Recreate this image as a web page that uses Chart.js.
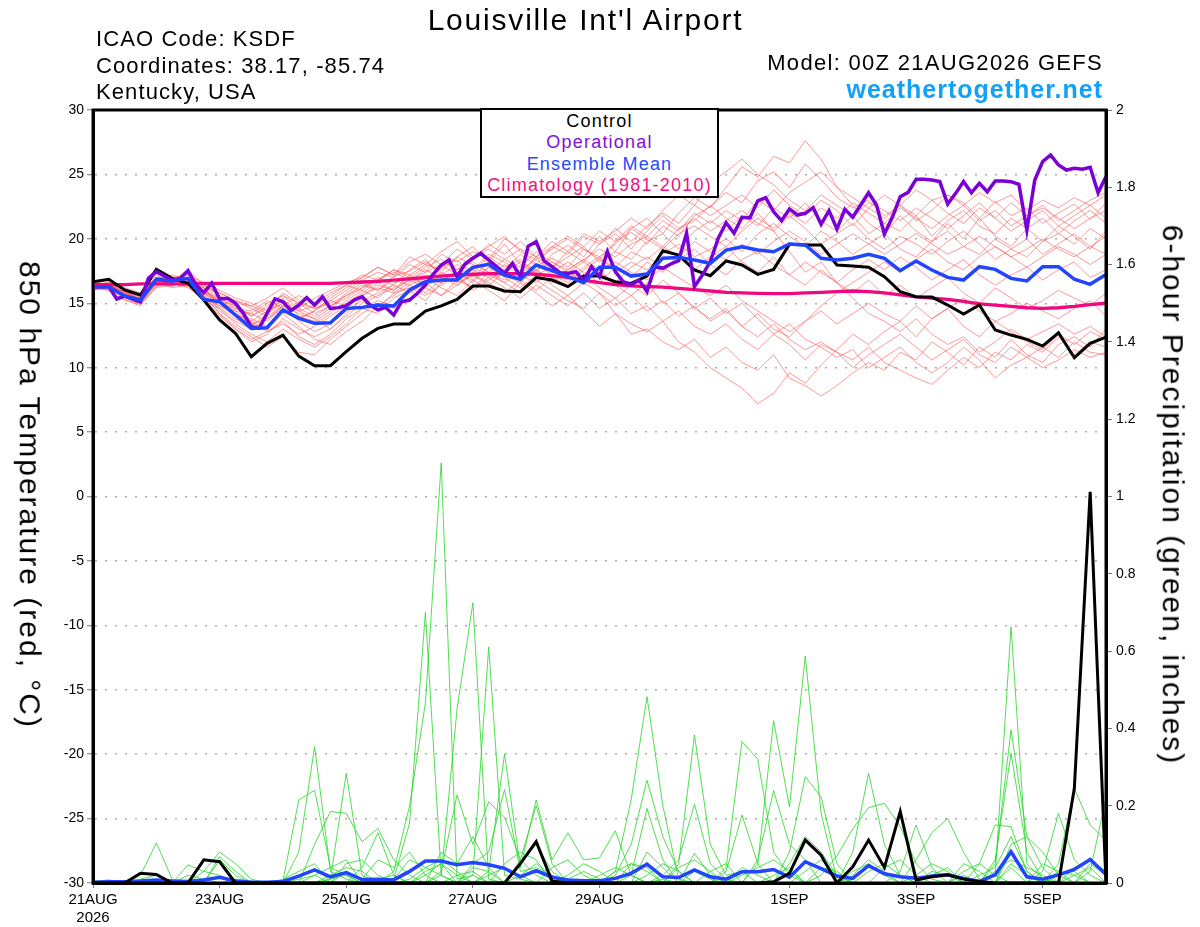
<!DOCTYPE html>
<html>
<head>
<meta charset="utf-8">
<title>Louisville Int'l Airport - GEFS 850 hPa temperature and 6-hour precipitation</title>
<script src="https://cdn.jsdelivr.net/npm/chart.js@4.4.1/dist/chart.umd.min.js"></script>
<style>
  body { margin: 0; background: #fff; }
  #wrap { position: relative; width: 1200px; height: 927px; overflow: hidden;
          font-family: "Liberation Sans", Arial, Helvetica, sans-serif; color: #000; }
  #chart { position: absolute; left: 0; top: 0; }
  .txt { position: absolute; line-height: 1; white-space: nowrap; }
  #title { left: 0; width: 1171px; top: 4.6px; text-align: center; font-size: 30px; letter-spacing: 1.8px; }
  .info { left: 96px; font-size: 22px; letter-spacing: 1.1px; }
  .model { right: 97px; font-size: 22px; letter-spacing: 1.3px; text-align: right; }
  #site { right: 97px; top: 76.8px; font-size: 25px; font-weight: bold; letter-spacing: 1px; color: #12a0f8; }
  .axtitle { position: absolute; font-size: 30px; letter-spacing: 2px; white-space: nowrap; line-height: 1.117;
             transform: translate(-50%, -50%) rotate(90deg); }
  #legendBox { position: absolute; left: 480px; top: 108px; width: 239px; height: 90px; box-sizing: border-box;
               border: 2px solid #000; background: #fff; text-align: center; font-size: 18px;
               letter-spacing: 1.2px; line-height: 21.3px; padding-top: 1px; }
</style>
</head>
<body>
<div id="wrap">
  <canvas id="chart" width="1200" height="927"></canvas>
  <div class="txt" id="title">Louisville Int'l Airport</div>
  <div class="txt info" style="top:28.4px">ICAO Code: KSDF</div>
  <div class="txt info" style="top:55.4px">Coordinates: 38.17, -85.74</div>
  <div class="txt info" style="top:81.4px">Kentucky, USA</div>
  <div class="txt model" style="top:52.4px">Model: 00Z 21AUG2026 GEFS</div>
  <div class="txt" id="site">weathertogether.net</div>
  <div class="axtitle" style="left:30px; top:495px">850 hPa Temperature (red, °C)</div>
  <div class="axtitle" style="left:1173px; top:495px">6-hour Precipitation (green, inches)</div>
  <div id="legendBox">
    <div style="color:#000">Control</div>
    <div style="color:#8010d8">Operational</div>
    <div style="color:#2848ff">Ensemble Mean</div>
    <div style="color:#f01080">Climatology (1981-2010)</div>
  </div>
</div>
<script>
// x is the 6-hour forecast step from 00Z 21AUG2026 (0..64)
const tickSteps = [0, 8, 16, 24, 32, 44, 52, 60];
const tickLabels = ['21AUG', '23AUG', '25AUG', '27AUG', '29AUG', '1SEP', '3SEP', '5SEP'];
const firstTickYear = '2026';

// 850 hPa temperature, deg C, every 6 h
const controlTemp = [
  16.67, 16.86, 16.03, 15.64, 17.63, 16.93, 16.55, 15.25, 13.70, 12.67,
  10.85, 11.89, 12.53, 10.90, 10.15, 10.15, 11.24, 12.28, 13.05, 13.39,
  13.39, 14.40, 14.79, 15.30, 16.34, 16.34, 15.95, 15.90, 16.99, 16.80,
  16.29, 17.11, 17.11, 16.67, 16.54, 17.11, 19.08, 18.74, 17.58, 17.14,
  18.28, 17.97, 17.24, 17.63, 19.57, 19.53, 19.53, 17.97, 17.90, 17.79,
  17.06, 15.90, 15.51, 15.48, 14.86, 14.16, 14.86, 12.92, 12.53, 12.20,
  11.68, 12.71, 10.77, 11.89, 12.36
];
const meanTemp = [
  16.29, 16.29, 15.56, 15.25, 16.85, 16.72, 16.93, 15.30, 15.12, 14.09,
  13.05, 13.10, 14.48, 13.83, 13.44, 13.49, 14.60, 14.68, 14.86, 14.79,
  16.03, 16.67, 16.80, 16.80, 17.79, 18.02, 17.19, 16.86, 17.97, 17.53,
  17.06, 16.60, 17.79, 17.79, 17.11, 17.27, 18.49, 18.56, 18.36, 18.10,
  19.13, 19.39, 19.13, 19.00, 19.60, 19.52, 18.49, 18.36, 18.49, 18.80,
  18.49, 17.53, 18.28, 17.58, 17.01, 16.80, 17.84, 17.63, 16.93, 16.73,
  17.84, 17.84, 16.86, 16.47, 17.24
];
const climTemp = [
  16.45, 16.45, 16.45, 16.5, 16.5, 16.5, 16.5, 16.55, 16.55, 16.55,
  16.55, 16.55, 16.55, 16.55, 16.55, 16.55, 16.6, 16.65, 16.7, 16.8,
  16.9, 17.0, 17.1, 17.2, 17.25, 17.3, 17.3, 17.3, 17.25, 17.15,
  17.0, 16.8, 16.6, 16.45, 16.35, 16.3, 16.25, 16.15, 16.05, 15.95,
  15.85, 15.8, 15.77, 15.75, 15.75, 15.8, 15.85, 15.9, 15.95, 15.9,
  15.8, 15.65, 15.5, 15.4, 15.3, 15.15, 14.95, 14.85, 14.75, 14.65,
  14.6, 14.65, 14.75, 14.9, 15.0
];
// operational run, every 3 h (129 values)
const operationalTemp = [
  16.29, 16.29, 16.29, 15.33, 15.56, 15.33, 15.12, 16.93, 17.45, 17.11,
  16.80, 16.93, 17.53, 16.42, 15.82, 16.55, 15.33, 15.38, 14.99, 14.22,
  13.18, 13.05, 14.22, 15.33, 15.12, 14.42, 14.86, 15.43, 14.86, 15.51,
  14.60, 14.66, 14.79, 15.25, 15.51, 14.86, 14.48, 14.68, 14.09, 15.12,
  15.25, 15.77, 16.42, 17.27, 17.97, 18.36, 17.06, 18.05, 18.49, 18.88,
  18.36, 17.84, 17.32, 18.10, 17.06, 19.44, 19.78, 18.28, 17.84, 17.37,
  17.32, 17.45, 16.75, 17.84, 17.06, 19.00, 17.45, 16.67, 16.42, 16.80,
  15.90, 17.84, 17.71, 18.05, 18.31, 20.43, 16.29, 17.19, 18.23, 20.04,
  21.25, 20.43, 21.67, 21.62, 22.95, 23.19, 22.11, 21.41, 22.32, 21.85,
  21.98, 22.42, 21.13, 22.19, 20.76, 22.29, 21.67, 22.63, 23.58, 22.63,
  20.37, 21.67, 23.27, 23.61, 24.62, 24.62, 24.57, 24.44, 22.70, 23.53,
  24.44, 23.58, 24.31, 23.66, 24.49, 24.49, 24.44, 24.23, 20.69, 24.57,
  25.99, 26.51, 25.73, 25.34, 25.47, 25.40, 25.55, 23.58, 24.83
];
// ensemble members, every 6 h
const memberTemps = [
  [16.3,16.5,15.8,15.5,17.0,16.8,16.9,16.0,15.2,14.8, 14.0,14.6,15.8,15.0,14.2,14.8,15.6,16.4,16.0,17.1,
   17.5,18.2,17.4,18.6,19.4,18.0,17.6,18.8,17.9,18.5, 17.8,19.2,18.4,19.8,20.5,19.6,21.0,20.2,21.8,22.5,
   23.6,22.8,24.5,25.2,24.0,25.8,24.6,23.2,22.4,23.0, 21.8,22.6,21.4,22.2,23.4,22.8,21.6,22.9,21.8,22.4,
   21.2,22.0,22.7,21.5,22.8],
  [16.1,16.6,16.0,15.2,16.9,17.2,16.8,15.6,14.6,13.8, 13.2,14.2,15.4,14.0,13.6,14.4,15.0,15.8,16.6,16.0,
   17.2,16.4,17.8,18.4,17.0,18.2,19.6,18.0,17.4,18.8, 19.5,18.6,20.2,19.0,20.8,21.6,20.4,22.0,23.2,22.4,
   24.0,25.6,24.8,26.4,25.9,27.6,26.2,24.0,22.6,21.2, 20.4,21.8,20.6,19.8,21.2,20.0,21.6,20.2,19.4,20.8,
   19.8,21.0,20.2,19.2,20.6],
  [16.4,16.2,15.6,14.9,16.6,16.4,16.7,15.4,14.0,13.0, 12.2,12.8,13.6,12.4,11.8,12.6,13.8,14.6,14.2,15.4,
   16.0,15.2,16.6,17.0,16.2,17.4,16.6,15.8,16.8,16.0, 15.2,14.6,15.8,14.2,13.4,12.8,13.6,12.0,11.2,10.0,
   9.2,8.4,7.2,8.0,9.6,8.8,10.2,11.4,12.6,11.8, 12.8,13.6,12.4,13.8,14.6,13.2,12.4,13.6,12.8,12.0,
   11.4,12.6,11.8,12.8,12.2],
  [16.2,16.4,15.4,15.0,16.8,16.2,16.4,15.8,14.4,13.6, 13.0,13.8,14.8,13.6,12.8,13.4,14.4,15.2,15.8,16.4,
   15.8,17.0,16.2,15.6,16.8,16.0,15.2,16.6,15.8,14.8, 15.6,14.4,13.2,14.2,12.6,13.0,12.0,11.4,12.2,10.8,
   11.6,10.4,9.8,11.0,9.2,8.6,7.8,8.6,9.6,10.4, 9.8,11.2,10.6,12.0,11.2,10.2,11.6,10.8,12.2,11.0,
   10.4,11.8,12.4,11.6,13.0],
  [16.5,16.3,15.9,15.6,16.6,16.9,16.6,15.9,15.0,14.2, 13.4,13.0,14.2,13.2,12.2,11.8,12.8,13.6,14.8,15.6,
   16.4,15.8,16.8,17.4,16.6,17.8,17.0,16.2,17.2,16.6, 17.4,16.8,17.6,16.4,15.6,16.6,15.0,15.8,14.6,13.8,
   14.6,13.2,12.4,13.4,12.2,11.4,12.0,11.2,10.6,11.6, 10.4,9.8,9.2,8.7,9.8,10.8,10.0,11.2,10.6,11.8,
   11.2,12.4,11.0,12.0,11.6],
  [16.0,16.4,15.6,15.4,17.2,16.6,17.0,15.9,15.4,14.6, 14.2,15.0,15.6,14.6,14.0,14.8,15.4,16.2,17.0,16.4,
   17.6,18.4,17.2,18.0,17.6,18.8,18.2,17.4,18.6,17.8, 18.6,19.4,18.2,19.0,18.4,19.8,20.4,19.2,20.6,21.4,
   20.6,21.8,21.0,22.4,21.6,22.8,21.4,20.6,21.8,20.4, 21.2,20.6,21.8,20.2,21.4,22.2,21.0,20.4,21.6,20.8,
   21.6,20.4,21.4,22.2,21.2],
  [16.3,16.0,15.2,15.0,16.4,16.6,17.4,16.2,15.0,14.2, 13.6,12.8,13.4,12.6,13.2,14.0,14.8,15.6,16.2,15.8,
   16.6,17.2,16.6,17.6,18.2,17.4,16.8,17.6,18.4,17.6, 16.8,17.8,18.6,17.4,18.2,17.6,18.8,19.6,18.6,19.2,
   20.0,19.0,20.4,21.2,20.2,19.4,20.6,19.8,18.8,19.6, 20.4,19.2,18.6,19.8,20.6,19.4,18.8,20.0,19.2,18.6,
   19.8,20.4,19.6,20.8,20.0],
  [16.2,16.7,15.7,15.2,16.6,17.0,16.5,15.6,14.2,13.2, 12.4,11.6,12.4,11.2,11.0,12.2,13.2,14.2,15.0,14.6,
   15.4,16.2,15.6,16.4,17.2,16.6,15.8,16.8,17.6,16.4, 15.6,16.6,15.8,14.8,15.6,14.4,15.2,14.0,14.8,13.6,
   14.4,13.2,14.2,13.0,12.4,13.6,14.4,13.4,14.2,15.0, 14.2,13.6,14.8,13.8,14.6,15.4,14.4,13.6,14.2,15.0,
   14.4,13.8,14.6,15.2,14.0],
  [16.6,16.4,15.8,15.3,16.9,16.7,17.6,16.4,15.6,15.0, 14.8,15.4,16.2,15.2,14.6,15.2,16.0,16.8,17.4,17.0,
   18.0,17.4,18.8,18.2,19.0,18.4,20.0,19.2,18.0,19.4, 18.8,20.2,19.6,20.8,19.8,21.0,22.0,21.2,22.6,21.8,
   22.6,23.4,22.4,23.8,22.6,21.8,23.0,22.2,21.0,22.4, 21.6,22.6,21.8,23.0,22.0,21.2,22.4,21.6,22.8,21.8,
   22.6,21.4,22.2,23.0,23.6],
  [16.1,16.3,15.5,15.1,16.5,16.3,16.8,15.8,14.8,14.0, 13.8,13.2,14.4,14.0,13.4,14.2,15.2,16.0,15.4,16.6,
   17.0,16.4,17.4,16.8,17.6,17.0,18.0,17.2,16.6,17.4, 18.2,17.4,16.6,17.8,17.0,18.2,17.4,18.8,17.6,18.6,
   19.4,18.2,17.4,18.6,17.2,16.4,17.6,16.6,15.8,16.8, 15.6,16.4,15.4,16.2,17.0,15.8,15.0,16.2,15.4,14.6,
   15.2,16.0,15.4,14.8,15.8],
  [16.3,16.1,15.7,15.4,16.7,16.5,16.3,15.2,14.6,13.4, 12.6,12.0,13.0,12.2,11.6,12.4,13.4,14.6,15.2,14.8,
   15.8,16.6,15.6,16.8,16.2,17.0,16.2,15.4,16.4,15.6, 14.8,15.8,14.6,15.4,14.2,14.8,13.6,14.4,13.2,12.6,
   13.4,12.2,11.4,12.6,11.8,10.6,11.8,11.2,10.0,11.0, 11.8,12.6,11.6,10.6,11.4,12.2,11.0,10.4,11.6,10.8,
   11.6,10.8,12.0,11.2,11.0],
  [16.4,16.5,16.1,15.7,17.0,16.9,16.9,16.2,15.8,15.2, 14.6,14.0,14.8,15.6,15.0,15.8,16.4,17.2,16.8,17.6,
   17.0,17.8,18.4,17.6,18.6,19.2,18.4,17.8,19.0,18.2, 17.6,18.4,19.2,18.6,19.6,20.2,19.4,20.8,21.6,20.6,
   21.4,22.2,21.2,20.6,21.8,20.8,19.6,20.4,21.2,20.0, 19.2,20.2,19.6,18.8,19.8,20.6,19.6,18.4,19.2,20.0,
   18.8,19.6,20.4,19.4,18.8],
  [16.0,16.2,15.3,14.8,16.3,16.6,16.2,15.4,14.8,14.4, 14.2,13.6,14.8,14.2,13.8,13.0,14.0,15.0,15.6,16.2,
   16.8,17.6,17.0,16.4,17.4,18.6,17.8,18.4,17.2,17.8, 19.0,18.2,19.6,20.4,19.2,20.6,21.8,20.8,21.4,22.6,
   21.6,20.8,22.0,20.6,19.0,17.4,18.2,16.6,15.4,14.2, 13.6,12.8,13.8,12.6,11.8,12.4,11.2,12.0,13.0,12.2,
   12.8,13.4,12.6,13.2,12.4],
  [16.5,16.8,16.2,15.8,17.4,17.0,17.2,16.6,16.0,15.4, 15.0,14.4,15.2,14.6,15.4,16.0,16.6,17.0,17.8,17.2,
   18.2,18.8,18.0,19.2,18.4,19.6,18.8,19.8,18.6,19.4, 20.2,19.4,20.6,19.8,21.0,20.2,21.4,20.6,22.0,21.2,
   22.2,21.4,23.0,22.2,23.6,24.4,25.2,24.0,23.2,22.4, 23.4,22.6,23.8,23.0,23.4,22.6,23.6,22.8,23.4,22.2,
   23.0,22.4,23.2,22.6,23.4],
  [16.2,16.0,15.6,15.0,16.2,16.4,16.6,15.6,14.2,13.0, 12.0,12.6,13.8,13.0,12.4,13.0,14.2,15.4,14.6,15.8,
   16.2,15.6,16.4,17.2,16.0,16.8,17.6,16.8,16.0,17.0, 16.4,17.2,16.2,15.4,16.4,15.6,16.8,15.8,14.6,15.4,
   14.2,15.0,13.8,12.6,13.4,12.2,11.6,10.8,11.4,10.0, 10.8,11.6,10.4,9.6,10.4,11.6,10.6,9.2,10.2,10.8,
   10.0,10.6,11.4,10.8,11.2],
  [16.3,16.6,15.9,15.3,16.8,16.5,17.0,16.0,15.2,14.4, 13.6,14.4,15.0,14.4,13.8,14.6,15.8,16.6,16.0,16.8,
   16.4,17.0,16.6,17.4,16.8,17.8,17.2,16.6,17.6,18.2, 17.4,18.2,17.4,16.6,17.8,18.6,17.8,18.4,19.2,18.0,
   17.2,18.4,19.0,18.0,17.2,18.2,17.4,16.6,17.6,18.4, 17.6,18.6,17.8,16.8,17.6,18.4,17.2,16.4,17.2,17.8,
   16.8,17.6,18.2,17.0,17.6],
  [16.4,16.2,15.5,15.2,16.9,16.4,16.6,15.8,15.0,14.0, 13.4,13.8,14.6,13.8,14.4,15.4,16.2,17.0,17.8,17.2,
   18.6,18.0,19.0,19.8,18.6,19.4,20.2,19.0,18.4,19.2, 20.0,19.2,18.6,19.6,20.8,20.0,19.2,20.4,21.0,20.2,
   19.4,20.6,21.6,20.8,22.0,21.2,22.4,21.6,22.8,22.0, 21.2,22.4,21.6,20.8,21.8,22.6,21.4,22.2,21.0,21.8,
   22.4,21.6,20.8,21.6,22.2],
  [16.2,16.5,15.6,15.4,16.7,17.0,16.7,16.2,15.4,14.8, 14.0,14.8,15.6,15.0,14.6,15.0,15.6,16.2,16.8,17.4,
   16.8,17.4,18.0,17.2,17.8,17.2,16.6,17.4,18.0,17.2, 16.6,17.6,18.4,17.8,19.0,18.4,19.4,18.6,19.8,19.0,
   18.4,19.6,18.8,19.8,20.6,19.8,18.8,19.6,20.4,19.6, 18.8,19.6,20.4,19.6,18.8,19.4,20.2,19.4,18.6,19.2,
   20.0,19.2,18.6,19.4,20.2],
  [16.5,16.4,15.9,15.5,16.4,16.8,17.2,16.0,15.0,14.6, 14.4,15.2,14.6,13.8,14.4,15.2,14.8,15.6,16.4,16.0,
   16.8,16.2,17.2,16.6,17.2,16.4,17.4,18.2,17.6,16.8, 17.6,18.4,17.6,18.2,17.4,16.8,17.8,17.0,16.2,15.6,
   16.4,15.2,14.4,13.6,12.8,13.6,14.8,15.8,16.6,17.4, 18.2,17.4,18.4,19.2,18.2,17.6,18.6,19.4,18.6,17.8,
   18.6,19.4,18.8,18.0,18.8],
  [16.3,16.5,15.8,15.6,17.0,16.8,17.0,16.4,15.8,15.2, 14.8,14.2,15.0,14.4,14.8,15.6,16.4,16.0,16.8,17.6,
   17.2,18.0,17.6,18.6,18.0,17.4,18.4,19.2,18.6,19.8, 19.0,20.4,19.8,20.6,21.6,20.8,22.2,23.4,22.6,24.4,
   25.2,26.2,25.0,24.2,23.0,22.2,23.4,22.6,21.8,22.8, 22.2,21.4,22.4,21.6,20.8,21.8,22.8,21.6,20.6,21.4,
   22.2,21.0,21.8,22.6,21.6]
];

// 6-hour precipitation, inches
const controlPrecip = [
  0, 0, 0, 0.025, 0.022, 0, 0, 0.06, 0.055, 0,
  0, 0, 0, 0, 0, 0, 0, 0, 0, 0,
  0, 0, 0, 0, 0, 0, 0, 0.05, 0.107, 0.005,
  0, 0, 0, 0, 0, 0, 0, 0, 0, 0,
  0, 0, 0, 0.003, 0.025, 0.111, 0.072, 0, 0.042, 0.111,
  0.04, 0.185, 0.008, 0.016, 0.021, 0.01, 0.004, 0, 0, 0,
  0, 0, 0.245, 1.012, 0
];
const meanPrecip = [
  0.002, 0.003, 0.003, 0.005, 0.008, 0.005, 0.004, 0.008, 0.015, 0.005,
  0.002, 0.002, 0.004, 0.018, 0.034, 0.016, 0.027, 0.009, 0.01, 0.008,
  0.03, 0.057, 0.057, 0.047, 0.053, 0.047, 0.038, 0.016, 0.032, 0.015,
  0.008, 0.006, 0.006, 0.012, 0.025, 0.049, 0.016, 0.014, 0.034, 0.016,
  0.01, 0.029, 0.029, 0.035, 0.015, 0.055, 0.037, 0.018, 0.012, 0.045,
  0.024, 0.016, 0.012, 0.018, 0.021, 0.012, 0.004, 0.021, 0.081, 0.016,
  0.01, 0.021, 0.035, 0.061, 0.022
];
// members: step -> inches; steps not listed were dry
const memberPrecips = [
  {0:0.004, 1:0.008, 3:0.02, 4:0.104, 5:0.01, 13:0.08, 14:0.353, 15:0.03, 16:0.01, 33:0.03, 34:0.215, 35:0.482, 36:0.2, 37:0.01, 57:0.02, 58:0.663, 59:0.05, 60:0.01},
  {3:0.01, 4:0.02, 6:0.047, 7:0.03, 8:0.02, 12:0.005, 13:0.215, 14:0.24, 15:0.04, 16:0.02, 19:0.01, 20:0.155, 21:0.70, 22:0.02, 37:0.05, 38:0.383, 39:0.1, 40:0.02, 41:0.03, 44:0.08, 45:0.275, 46:0.223, 47:0.05, 62:0.02, 63:0.04},
  {7:0.03, 8:0.08, 9:0.05, 10:0.01, 14:0.1, 15:0.185, 16:0.18, 17:0.107, 18:0.141, 19:0.06, 20:0.02, 22:0.02, 23:0.45, 24:0.725, 25:0.01, 33:0.02, 34:0.1, 35:0.266, 36:0.12, 37:0.03, 48:0.08, 49:0.284, 50:0.1, 51:0.02, 57:0.05, 58:0.396, 59:0.12, 60:0.04},
  {8:0.068, 9:0.03, 15:0.01, 16:0.284, 17:0.02, 19:0.03, 20:0.2, 21:0.466, 22:1.087, 23:0.01, 24:0.02, 27:0.06, 28:0.2, 29:0.05, 40:0.04, 41:0.366, 42:0.32, 43:0.08, 44:0.02, 55:0.02, 57:0.06, 58:0.336, 59:0.08, 60:0.01},
  {8:0.06, 9:0.02, 16:0.03, 17:0.01, 18:0.06, 19:0.04, 20:0.08, 21:0.02, 24:0.02, 25:0.611, 26:0.02, 27:0.01, 34:0.02, 35:0.193, 36:0.06, 42:0.05, 43:0.42, 44:0.197, 45:0.587, 46:0.18, 47:0.01, 60:0.03, 61:0.18, 62:0.06, 63:0.02},
  {12:0.01, 13:0.03, 14:0.05, 17:0.04, 18:0.13, 19:0.02, 22:0.03, 23:0.228, 24:0.1, 25:0.21, 26:0.17, 27:0.06, 28:0.02, 36:0.02, 37:0.06, 38:0.204, 39:0.05, 40:0.01, 53:0.02, 54:0.04, 56:0.05, 57:0.15, 58:0.146, 59:0.03},
  {21:0.02, 22:0.05, 25:0.03, 26:0.334, 27:0.04, 28:0.215, 29:0.06, 30:0.13, 31:0.06, 32:0.065, 33:0.135, 34:0.02, 38:0.077, 39:0.02, 46:0.02, 47:0.07, 48:0.14, 49:0.195, 50:0.206, 51:0.146, 52:0.05, 53:0.01},
  {14:0.02, 15:0.04, 16:0.06, 24:0.05, 25:0.08, 26:0.242, 27:0.03, 28:0.04, 29:0.02, 40:0.03, 41:0.176, 42:0.05, 51:0.03, 52:0.15, 53:0.04, 61:0.05, 62:0.245, 63:0.15, 64:0.11},
  {19:0.01, 20:0.06, 21:0.04, 22:0.02, 27:0.05, 28:0.1, 29:0.03, 42:0.06, 43:0.239, 44:0.1, 45:0.06, 52:0.06, 53:0.13, 54:0.167, 55:0.08, 56:0.01, 63:0.03, 64:0.22},
  {16:0.05, 17:0.06, 18:0.02, 22:0.08, 23:0.05, 24:0.12, 25:0.04, 30:0.02, 31:0.05, 32:0.03, 35:0.08, 36:0.04, 44:0.05, 45:0.12, 46:0.08, 47:0.02, 58:0.1, 59:0.12, 60:0.08, 61:0.02},
  {6:0.02, 7:0.01, 15:0.02, 16:0.04, 17:0.03, 26:0.05, 27:0.08, 28:0.06, 34:0.05, 35:0.03, 37:0.04, 38:0.06, 39:0.03, 48:0.02, 49:0.06, 50:0.03, 55:0.05, 56:0.03, 58:0.05, 59:0.02},
  {13:0.01, 14:0.02, 21:0.03, 22:0.05, 23:0.02, 29:0.04, 30:0.06, 31:0.02, 36:0.01, 41:0.02, 42:0.04, 43:0.06, 44:0.03, 50:0.04, 51:0.06, 52:0.02, 57:0.03, 58:0.06, 59:0.04, 60:0.02, 62:0.04, 63:0.06, 64:0.03},
  {18:0.01, 19:0.02, 24:0.04, 25:0.03, 32:0.02, 33:0.04, 34:0.02, 39:0.03, 40:0.05, 45:0.03, 46:0.06, 47:0.02, 53:0.03, 54:0.02, 56:0.02, 57:0.04, 58:0.12, 59:0.03, 61:0.03, 62:0.02},
  {20:0.01, 21:0.04, 22:0.06, 23:0.03, 27:0.02, 28:0.05, 29:0.02, 35:0.02, 36:0.05, 37:0.03, 43:0.02, 44:0.04, 49:0.03, 50:0.05, 51:0.02, 58:0.04, 60:0.05, 61:0.03, 63:0.05, 64:0.02},
  {1:0.005, 9:0.01, 10:0.005, 23:0.02, 24:0.03, 30:0.01, 31:0.03, 32:0.01, 38:0.03, 39:0.01, 46:0.04, 47:0.03, 52:0.02, 53:0.05, 54:0.03, 58:0.08, 59:0.02},
  {15:0.01, 16:0.02, 25:0.02, 26:0.04, 27:0.02, 33:0.03, 34:0.05, 35:0.04, 41:0.04, 42:0.02, 48:0.03, 49:0.05, 50:0.02, 55:0.03, 56:0.05, 57:0.02, 61:0.02, 62:0.03}
];

const lastStep = 64;

function toPoints(values, stepSize) {
  return values.map((v, i) => ({ x: i * stepSize, y: v }));
}

function sparseToPoints(rain) {
  const pts = [];
  for (let i = 0; i <= lastStep; i++) {
    pts.push({ x: i, y: rain[i] || 0 });
  }
  return pts;
}

// lower order is drawn on top
let datasets = [];
memberTemps.forEach(m => {
  datasets.push({ data: toPoints(m, 1), yAxisID: 'yT', borderColor: 'rgba(255,72,72,0.7)', borderWidth: 0.8, order: 10 });
});
memberPrecips.forEach(m => {
  datasets.push({ data: sparseToPoints(m), yAxisID: 'yP', borderColor: 'rgba(40,215,40,0.9)', borderWidth: 0.9, order: 9 });
});
datasets.push({ data: toPoints(meanPrecip, 1), yAxisID: 'yP', borderColor: '#2244ff', borderWidth: 3.5, order: 6 });
datasets.push({ data: toPoints(controlPrecip, 1), yAxisID: 'yP', borderColor: '#000', borderWidth: 3, order: 5 });
datasets.push({ data: toPoints(climTemp, 1), yAxisID: 'yT', borderColor: '#f0087f', borderWidth: 3.3, order: 4 });
datasets.push({ data: toPoints(controlTemp, 1), yAxisID: 'yT', borderColor: '#000', borderWidth: 3, order: 3 });
datasets.push({ data: toPoints(operationalTemp, 0.5), yAxisID: 'yT', borderColor: '#7a00d6', borderWidth: 3.5, order: 2 });
datasets.push({ data: toPoints(meanTemp, 1), yAxisID: 'yT', borderColor: '#2244ff', borderWidth: 3.5, order: 1 });

// thick black box round the plot, drawn over the lines
const framePlugin = {
  id: 'frame',
  afterDatasetsDraw(chart) {
    const { ctx, chartArea } = chart;
    ctx.save();
    ctx.strokeStyle = '#000';
    ctx.lineWidth = 3;
    ctx.strokeRect(chartArea.left, chartArea.top, chartArea.right - chartArea.left, chartArea.bottom - chartArea.top);
    ctx.restore();
  }
};

Chart.defaults.font.family = '"Liberation Sans", Arial, Helvetica, sans-serif';
Chart.defaults.color = '#000';

const chart = new Chart(document.getElementById('chart').getContext('2d'), {
  type: 'line',
  data: { datasets: datasets },
  options: {
    responsive: false,
    animation: false,
    events: [],
    layout: { padding: { top: 110, left: 0, right: 0, bottom: 0 } },
    elements: {
      point: { radius: 0 },
      line: { tension: 0, fill: false }
    },
    plugins: {
      legend: { display: false },
      tooltip: { enabled: false }
    },
    scales: {
      x: {
        type: 'linear',
        min: 0,
        max: lastStep,
        afterBuildTicks: axis => { axis.ticks = tickSteps.map(v => ({ value: v })); },
        afterFit: axis => { axis.height = 44; },
        grid: { drawOnChartArea: false, drawTicks: true, tickLength: 5, color: '#777', tickWidth: 1 },
        border: { display: true, color: '#000', width: 3 },
        ticks: {
          autoSkip: false,
          maxRotation: 0,
          padding: 3,
          font: { size: 15 },
          callback: (v, i) => i === 0 ? [tickLabels[0], firstTickYear] : tickLabels[i]
        }
      },
      yT: {
        type: 'linear',
        position: 'left',
        min: -30,
        max: 30,
        afterFit: axis => { axis.width = 93; },
        grid: { color: '#aaaaaa', lineWidth: 1.5, drawTicks: true, tickLength: 6, tickColor: '#777', tickWidth: 1, tickBorderDash: [] },
        border: { display: true, color: '#000', width: 3, dash: [2, 8] },
        ticks: { stepSize: 5, padding: 3, font: { size: 14 }, callback: v => String(v) }
      },
      yP: {
        type: 'linear',
        position: 'right',
        min: 0,
        max: 2,
        afterFit: axis => { axis.width = 94; },
        grid: { drawOnChartArea: false, drawTicks: true, tickLength: 6, color: '#777', tickWidth: 1 },
        border: { display: true, color: '#000', width: 3 },
        ticks: { stepSize: 0.2, padding: 4, font: { size: 14 }, callback: v => String(Math.round(v * 10) / 10) }
      }
    }
  },
  plugins: [framePlugin]
});
</script>
</body>
</html>
